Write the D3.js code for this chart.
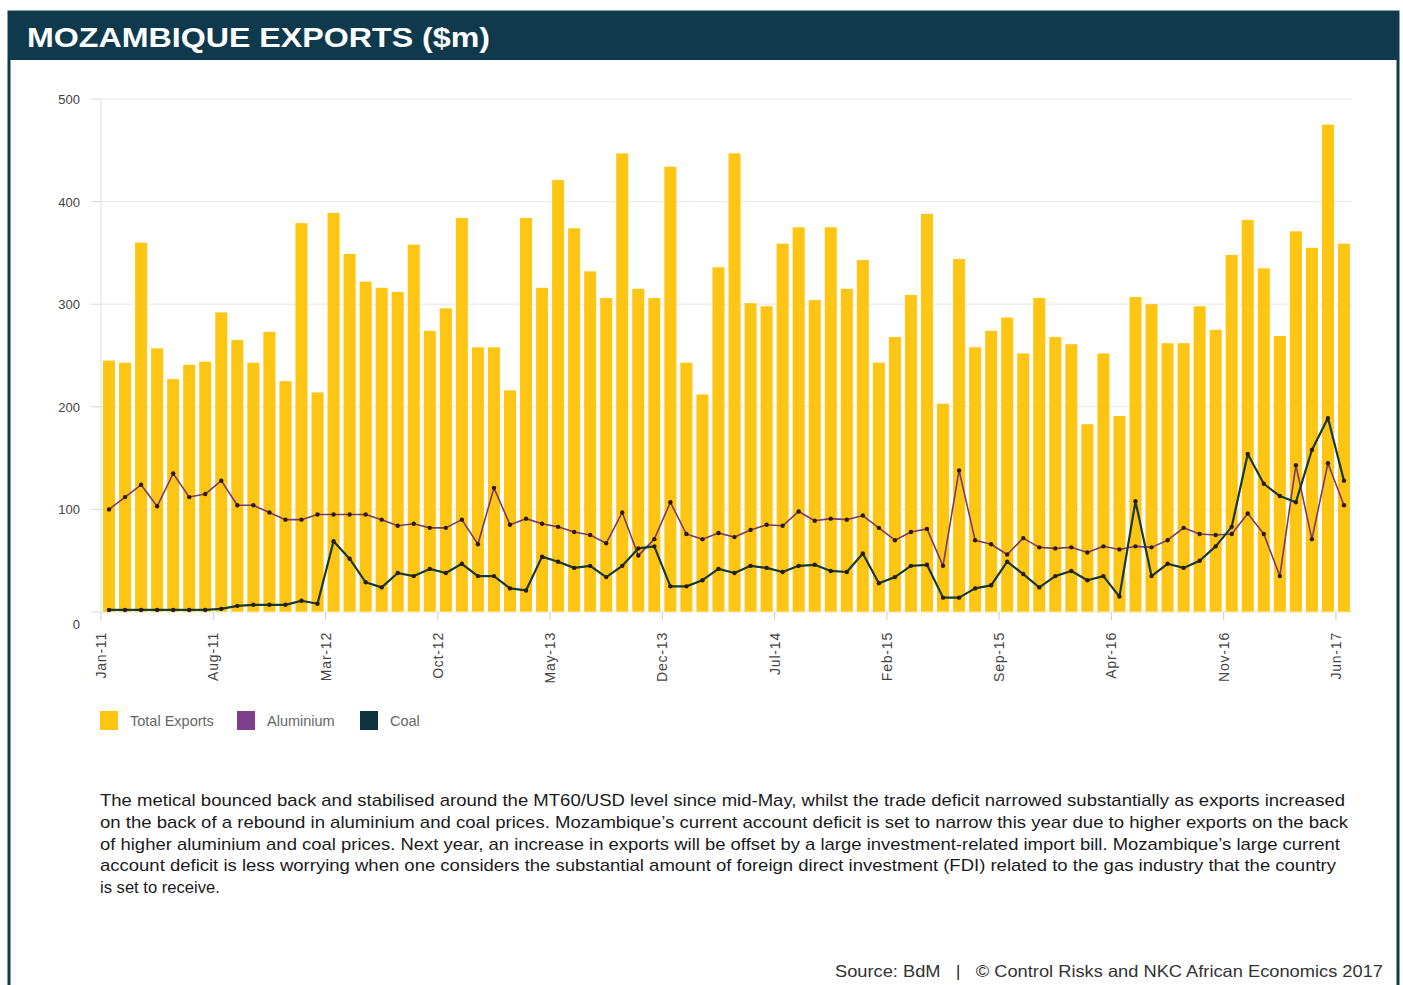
<!DOCTYPE html>
<html>
<head>
<meta charset="utf-8">
<script src="https://cdn.jsdelivr.net/npm/d3@7"></script>
<style>
  html, body { margin: 0; padding: 0; background: #fff; }
  svg { display: block; font-family: "Liberation Sans", Arial, sans-serif; }
</style>
</head>
<body>
<svg id="chart" width="1403" height="985"></svg>
<script>
// Monthly exports, Jan 2011 – Jun 2017 ($m)
const totalExports = [
  245,243,360,257,227,241,244,292,265,243,273,225,
  379,214,389,349,322,316,312,358,274,296,384,258,
  258,216,384,316,421,374,332,306,447,315,306,434,
  243,212,336,447,301,298,359,375,304,375,315,343,
  243,268,309,388,203,344,258,274,287,252,306,268,
  261,183,252,191,307,300,262,262,298,275,348,382,
  335,269,371,355,475,359
];
const aluminium = [
  100,112,124,103,135,112,115,128,104,104,97,90,
  90,95,95,95,95,90,84,86,82,82,90,66,
  121,85,91,86,83,78,75,67,97,55,71,107,
  76,71,77,73,80,85,84,98,89,91,90,94,
  82,70,78,81,45,138,70,66,56,72,63,62,
  63,58,64,61,64,63,70,82,76,75,76,96,
  76,35,143,71,145,104
];
const coal = [
  2,2,2,2,2,2,2,3,6,7,7,7,
  11,8,69,52,29,24,38,35,42,38,47,35,
  35,23,21,54,49,43,45,34,45,62,64,25,
  25,31,42,38,45,43,39,45,46,40,39,57,
  28,34,45,46,14,14,23,26,49,37,24,35,
  40,31,35,15,108,35,47,43,50,64,83,154,
  125,113,107,158,189,128
];
const tickLabels = ["Jan-11","Aug-11","Mar-12","Oct-12","May-13","Dec-13","Jul-14",
                    "Feb-15","Sep-15","Apr-16","Nov-16","Jun-17"];
const yTicks = [0, 100, 200, 300, 400, 500];
const legendItems = ["Total Exports", "Aluminium", "Coal"];
const noteLines = [
  "The metical bounced back and stabilised around the MT60/USD level since mid-May, whilst the trade deficit narrowed substantially as exports increased",
  "on the back of a rebound in aluminium and coal prices. Mozambique\u2019s current account deficit is set to narrow this year due to higher exports on the back",
  "of higher aluminium and coal prices. Next year, an increase in exports will be offset by a large investment-related import bill. Mozambique\u2019s large current",
  "account deficit is less worrying when one considers the substantial amount of foreign direct investment (FDI) related to the gas industry that the country",
  "is set to receive."
];
const title = "MOZAMBIQUE EXPORTS ($m)";
const source = "Source: BdM   |   \u00A9 Control Risks and NKC African Economics 2017";

const fmt = d3.utcFormat("%b-%y");
const months = d3.utcMonths(new Date(Date.UTC(2011, 0, 1)), new Date(Date.UTC(2017, 6, 1))).map(fmt);

const colors = { total: "#FFC512", aluminium: "#7E3F8F", coal: "#0F3441" };
const NAVY = "#0F3A4E";

const svg = d3.select("#chart");

// Frame and title bar
svg.append("rect").attr("x", 9).attr("y", 12).attr("width", 1389).attr("height", 985)
  .attr("fill", "#fff").attr("stroke", NAVY).attr("stroke-width", 3);
svg.append("rect").attr("x", 8).attr("y", 12).attr("width", 1391).attr("height", 48).attr("fill", NAVY);
svg.append("text").attr("x", 27).attr("y", 47).text(title)
  .attr("fill", "#fff").attr("font-size", 28.5).attr("font-weight", "bold")
  .attr("textLength", 463).attr("lengthAdjust", "spacingAndGlyphs");

// Scales
const x = d3.scaleBand().domain(months).range([101, 1352]).paddingInner(0.25).paddingOuter(0.125);
const y = d3.scaleLinear().domain([0, 500]).range([612, 99]);

// Grid
const g = svg.append("g");
g.selectAll("line.grid").data(yTicks.filter(d => d > 0)).join("line")
  .attr("x1", 101).attr("x2", 1352)
  .attr("y1", d => y(d)).attr("y2", d => y(d))
  .attr("stroke", "#e6e6e6").attr("stroke-width", 1);
g.selectAll("line.ytick").data(yTicks).join("line")
  .attr("x1", 91).attr("x2", 101)
  .attr("y1", d => y(d)).attr("y2", d => y(d))
  .attr("stroke", "#d8d8d8");
g.append("line").attr("x1", 101).attr("x2", 101).attr("y1", y(500)).attr("y2", y(0))
  .attr("stroke", "#e0e0e0");

// Y labels
g.selectAll("text.ylab").data(yTicks).join("text")
  .attr("x", 80).attr("y", d => y(d) + (d === 0 ? 17 : 5))
  .attr("text-anchor", "end").attr("font-size", 13).attr("fill", "#444")
  .text(d => d);

// Bars
const step = x.step();
const bandStart = d => x(d) - step * x.paddingInner() / 2;
g.selectAll("rect.bar").data(totalExports).join("rect")
  .attr("x", (d, i) => x(months[i]))
  .attr("width", x.bandwidth())
  .attr("y", d => y(d))
  .attr("height", d => y(0) - y(d))
  .attr("fill", colors.total);

// X axis ticks and labels
g.append("line").attr("x1", 101).attr("x2", 1352).attr("y1", y(0)).attr("y2", y(0))
  .attr("stroke", "#f3e9b0");
g.selectAll("line.xtick").data(tickLabels).join("line")
  .attr("x1", d => bandStart(d)).attr("x2", d => bandStart(d))
  .attr("y1", y(0)).attr("y2", y(0) + 8)
  .attr("stroke", "#c9cbe6");
g.selectAll("text.xlab").data(tickLabels).join("text")
  .attr("transform", d => `translate(${bandStart(d) + 5},${y(0) + 20}) rotate(-90)`)
  .attr("text-anchor", "end").attr("font-size", 14).attr("letter-spacing", 0.8).attr("fill", "#444")
  .text(d => d);

// Lines
const cx = i => x(months[i]) + x.bandwidth() / 2;
const line = d3.line().x((d, i) => cx(i)).y(d => y(d));
[[aluminium, "#7a3a68", 1.6], [coal, "#17392f", 2.2]].forEach(([data, col, w]) => {
  g.append("path").datum(data).attr("d", line)
    .attr("fill", "none").attr("stroke", col).attr("stroke-width", w).attr("stroke-linejoin", "round");
  g.selectAll(null).data(data).join("circle")
    .attr("cx", (d, i) => cx(i)).attr("cy", d => y(d)).attr("r", 2.2).attr("fill", "#2a1a1a");
});

// Legend
const legend = svg.append("g").attr("transform", "translate(100,711)");
const legendX = [0, 137, 260];
const legendColors = [colors.total, colors.aluminium, colors.coal];
legendItems.forEach((t, i) => {
  legend.append("rect").attr("x", legendX[i]).attr("y", 0).attr("width", 18).attr("height", 19)
    .attr("fill", legendColors[i]);
  legend.append("text").attr("x", legendX[i] + 30).attr("y", 15).attr("font-size", 14.5)
    .attr("fill", "#666").text(t);
});

// Commentary
const noteWidths = [1245, 1248, 1240, 1236];
svg.append("g").selectAll("text").data(noteLines).join("text")
  .attr("x", 100).attr("y", (d, i) => 806 + i * 21.8)
  .attr("font-size", 16.6).attr("fill", "#1a1a1a")
  .each(function(d, i) {
    if (i < noteWidths.length) d3.select(this).attr("textLength", noteWidths[i]).attr("lengthAdjust", "spacingAndGlyphs");
  })
  .text(d => d);

// Source
svg.append("text").attr("x", 1383).attr("y", 977).attr("text-anchor", "end")
  .style("white-space", "pre")
  .attr("font-size", 16.5).attr("fill", "#333")
  .attr("textLength", 548).attr("lengthAdjust", "spacingAndGlyphs").text(source);
</script>
</body>
</html>
